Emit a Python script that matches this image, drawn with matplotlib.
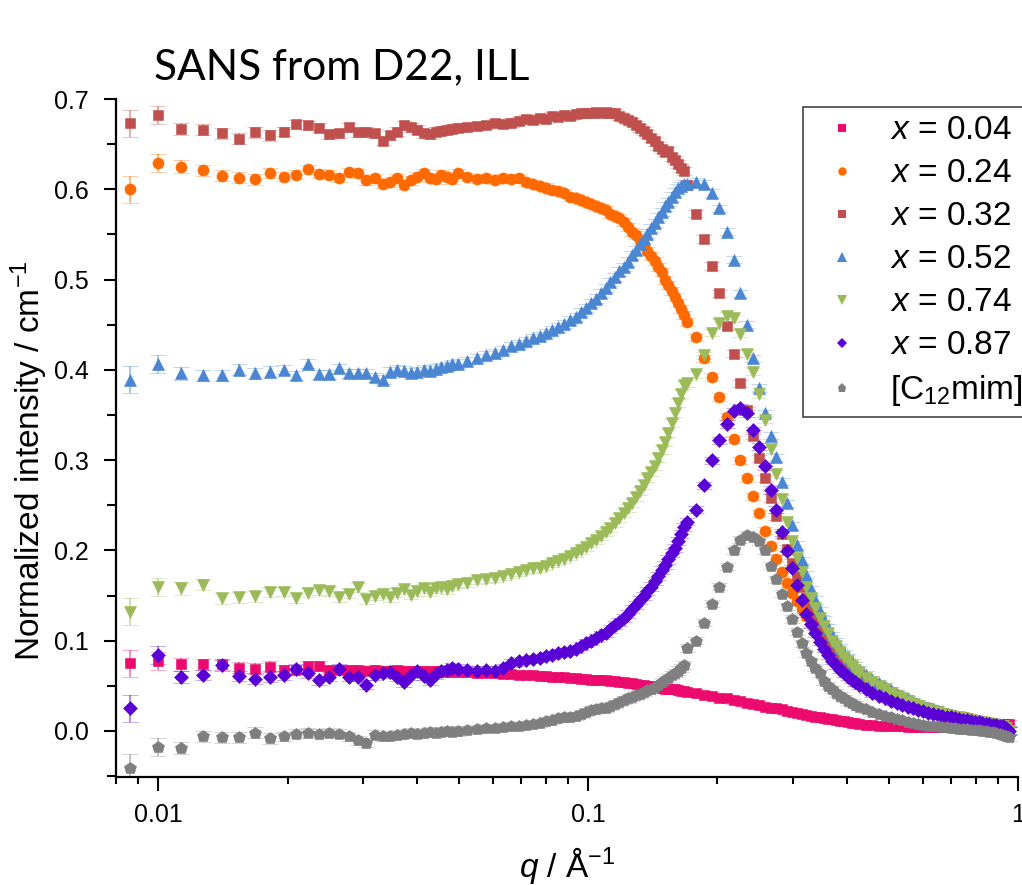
import numpy as np
import matplotlib
matplotlib.use('Agg')
import matplotlib.pyplot as plt
import matplotlib.colors as mcolors
from matplotlib.lines import Line2D
from matplotlib.ticker import FixedLocator, FixedFormatter, MultipleLocator, LogLocator, FormatStrFormatter, NullFormatter

plt.rcParams['font.family'] = 'Liberation Sans'
plt.rcParams['mathtext.fontset'] = 'custom'
plt.rcParams['mathtext.rm'] = 'Liberation Sans'
plt.rcParams['mathtext.it'] = 'Liberation Sans:italic'
plt.rcParams['mathtext.default'] = 'regular'

# ---------------- data ----------------
# q grid (1/A), shared by all samples
q = [0.0086, 0.0100, 0.0113, 0.0127, 0.0141, 0.0154, 0.0168, 0.0182, 0.0196, 0.0209,
     0.0223, 0.0237, 0.0250, 0.0264, 0.0278, 0.0292, 0.0305, 0.0319, 0.0333, 0.0346,
     0.0360, 0.0374, 0.0387, 0.0401, 0.0415, 0.0429, 0.0442, 0.0456, 0.0470, 0.0483,
     0.0497,
     0.0524, 0.0552, 0.0579, 0.0606, 0.0634, 0.0661, 0.0689, 0.0716, 0.0743, 0.0771,
     0.0798, 0.0826, 0.0853, 0.0880, 0.0908, 0.0935, 0.0963, 0.0990, 0.1017, 0.1045,
     0.1072, 0.1100, 0.1127, 0.1154, 0.1182, 0.1209, 0.1237, 0.1264, 0.1291, 0.1319,
     0.1346, 0.1374, 0.1401, 0.1428, 0.1456, 0.1483, 0.1511, 0.1538, 0.1565, 0.1593,
     0.1620, 0.1648, 0.1675,
     0.170, 0.178, 0.186, 0.194, 0.202, 0.210, 0.218, 0.226, 0.234, 0.242,
     0.250, 0.258, 0.266, 0.274, 0.282, 0.290, 0.298, 0.306, 0.314, 0.322,
     0.330, 0.338, 0.346, 0.354, 0.362, 0.370, 0.378, 0.386, 0.394, 0.402,
     0.410, 0.418, 0.426,
     0.442, 0.458, 0.474, 0.490, 0.506, 0.522, 0.538, 0.554, 0.570, 0.586,
     0.602, 0.618, 0.634, 0.650, 0.666, 0.682, 0.698, 0.714, 0.730, 0.746,
     0.762, 0.778, 0.794, 0.810, 0.826, 0.842, 0.858, 0.874, 0.890, 0.906,
     0.922, 0.938, 0.954]

# x = 0.04
I_004 = [0.075, 0.078, 0.074, 0.074, 0.074, 0.070, 0.069, 0.071, 0.068, 0.068,
         0.072, 0.072, 0.068, 0.068, 0.068, 0.068, 0.067, 0.068, 0.067, 0.067,
         0.068, 0.067, 0.066, 0.067, 0.066, 0.066, 0.066, 0.066, 0.065, 0.066,
         0.065,
         0.065, 0.064, 0.064, 0.064, 0.063, 0.063, 0.062, 0.062, 0.062, 0.061,
         0.061, 0.060, 0.060, 0.060, 0.059, 0.059, 0.058, 0.058, 0.057, 0.057,
         0.056, 0.056, 0.055, 0.055, 0.054, 0.054, 0.053, 0.053, 0.052, 0.051,
         0.051, 0.050, 0.050, 0.049, 0.049, 0.048, 0.047, 0.047, 0.046, 0.046,
         0.045, 0.044, 0.044,
         0.043, 0.042, 0.040, 0.039, 0.037, 0.036, 0.034, 0.033, 0.031, 0.030,
         0.029, 0.027, 0.026, 0.025, 0.024, 0.022, 0.021, 0.020, 0.019, 0.018,
         0.017, 0.016, 0.015, 0.014, 0.013, 0.013, 0.012, 0.011, 0.011, 0.010,
         0.009, 0.009, 0.008,
         0.007, 0.007, 0.006, 0.006, 0.005, 0.005, 0.005, 0.004, 0.004, 0.004,
         0.004, 0.004, 0.004, 0.004, 0.004, 0.004, 0.004, 0.004, 0.004, 0.004,
         0.005, 0.005, 0.005, 0.005, 0.006, 0.006, 0.006, 0.007, 0.007, 0.007,
         0.008, 0.008, 0.008]

# x = 0.24
I_024 = [0.600, 0.629, 0.625, 0.621, 0.615, 0.613, 0.611, 0.618, 0.614, 0.616,
         0.622, 0.617, 0.616, 0.613, 0.619, 0.618, 0.610, 0.612, 0.606, 0.608,
         0.612, 0.605, 0.610, 0.614, 0.618, 0.613, 0.611, 0.616, 0.614, 0.611,
         0.618,
         0.614, 0.611, 0.612, 0.610, 0.612, 0.611, 0.612, 0.608, 0.606, 0.604,
         0.602, 0.599, 0.598, 0.596, 0.592, 0.590, 0.588, 0.586, 0.584, 0.581,
         0.579, 0.577, 0.573, 0.570, 0.568, 0.564, 0.558, 0.553, 0.549, 0.544,
         0.539, 0.532, 0.526, 0.521, 0.514, 0.508, 0.500, 0.494, 0.487, 0.481,
         0.474, 0.467, 0.461,
         0.453, 0.436, 0.413, 0.392, 0.370, 0.348, 0.323, 0.300, 0.280, 0.260,
         0.241, 0.222, 0.205, 0.191, 0.176, 0.164, 0.153, 0.144, 0.135, 0.127,
         0.119, 0.112, 0.105, 0.099, 0.093, 0.088, 0.083, 0.079, 0.075, 0.071,
         0.067, 0.064, 0.061,
         0.056, 0.052, 0.048, 0.044, 0.041, 0.038, 0.035, 0.032, 0.030, 0.028,
         0.026, 0.024, 0.022, 0.021, 0.019, 0.018, 0.017, 0.016, 0.015, 0.014,
         0.013, 0.012, 0.011, 0.010, 0.010, 0.009, 0.008, 0.008, 0.007, 0.006,
         0.005, 0.003, 0.000]

# x = 0.32
I_032 = [0.673, 0.682, 0.667, 0.666, 0.662, 0.656, 0.663, 0.660, 0.664, 0.672,
         0.671, 0.668, 0.661, 0.662, 0.669, 0.663, 0.664, 0.662, 0.654, 0.660,
         0.664, 0.671, 0.669, 0.666, 0.662, 0.661, 0.664, 0.665, 0.666, 0.667,
         0.668,
         0.669, 0.670, 0.671, 0.673, 0.672, 0.674, 0.676, 0.678, 0.677, 0.679,
         0.678, 0.681, 0.680, 0.682, 0.681, 0.683, 0.684, 0.685, 0.684, 0.686,
         0.685, 0.686, 0.684, 0.684, 0.681, 0.679, 0.677, 0.675, 0.671, 0.668,
         0.665, 0.661, 0.657, 0.653, 0.648, 0.645, 0.641, 0.642, 0.636, 0.632,
         0.628, 0.624, 0.620,
         0.605, 0.573, 0.545, 0.515, 0.485, 0.449, 0.418, 0.385, 0.355, 0.327,
         0.302, 0.280, 0.258, 0.238, 0.218, 0.202, 0.186, 0.172, 0.159, 0.147,
         0.136, 0.126, 0.117, 0.109, 0.102, 0.096, 0.090, 0.085, 0.080, 0.076,
         0.072, 0.068, 0.065,
         0.059, 0.054, 0.050, 0.046, 0.043, 0.040, 0.037, 0.034, 0.031, 0.029,
         0.027, 0.025, 0.023, 0.022, 0.020, 0.019, 0.018, 0.017, 0.016, 0.015,
         0.014, 0.013, 0.012, 0.011, 0.010, 0.010, 0.009, 0.008, 0.008, 0.007,
         0.006, 0.004, 0.001]

# x = 0.52
I_052 = [0.389, 0.407, 0.396, 0.394, 0.394, 0.400, 0.396, 0.398, 0.400, 0.394,
         0.407, 0.395, 0.395, 0.402, 0.396, 0.396, 0.396, 0.392, 0.389, 0.398,
         0.400, 0.399, 0.397, 0.398, 0.400, 0.399, 0.401, 0.403, 0.404, 0.406,
         0.407,
         0.410, 0.413, 0.416, 0.419, 0.422, 0.426, 0.429, 0.432, 0.435, 0.438,
         0.441, 0.444, 0.447, 0.451, 0.455, 0.459, 0.464, 0.469, 0.474, 0.479,
         0.485, 0.491, 0.497, 0.503, 0.509, 0.514, 0.520, 0.527, 0.533, 0.539,
         0.545, 0.551, 0.557, 0.563, 0.569, 0.575, 0.581, 0.586, 0.592, 0.597,
         0.601, 0.604, 0.606,
         0.606, 0.608, 0.606, 0.596, 0.579, 0.553, 0.522, 0.485, 0.450, 0.413,
         0.380, 0.352, 0.327, 0.303, 0.276, 0.252, 0.228, 0.206, 0.189, 0.173,
         0.157, 0.145, 0.133, 0.123, 0.114, 0.106, 0.099, 0.092, 0.086, 0.081,
         0.076, 0.072, 0.068,
         0.062, 0.057, 0.053, 0.049, 0.045, 0.041, 0.038, 0.035, 0.032, 0.030,
         0.028, 0.026, 0.024, 0.022, 0.021, 0.019, 0.018, 0.017, 0.016, 0.015,
         0.014, 0.013, 0.012, 0.011, 0.011, 0.010, 0.009, 0.009, 0.008, 0.007,
         0.006, 0.004, 0.001]

# x = 0.74
I_074 = [0.132, 0.160, 0.158, 0.162, 0.147, 0.148, 0.149, 0.154, 0.154, 0.147,
         0.153, 0.156, 0.155, 0.148, 0.152, 0.159, 0.146, 0.150, 0.152, 0.148,
         0.153, 0.157, 0.151, 0.155, 0.158, 0.154, 0.158, 0.160, 0.157, 0.161,
         0.163,
         0.164, 0.167, 0.168, 0.170, 0.172, 0.174, 0.176, 0.178, 0.180, 0.181,
         0.183, 0.186, 0.188, 0.191, 0.194, 0.197, 0.200, 0.204, 0.208, 0.212,
         0.216, 0.220, 0.225, 0.230, 0.236, 0.241, 0.247, 0.253, 0.259, 0.266,
         0.273, 0.280, 0.287, 0.294, 0.302, 0.311, 0.320, 0.330, 0.341, 0.352,
         0.363, 0.373, 0.383,
         0.385, 0.395, 0.416, 0.441, 0.452, 0.460, 0.457, 0.440, 0.418, 0.398,
         0.373, 0.345, 0.312, 0.285, 0.257, 0.232, 0.210, 0.192, 0.176, 0.160,
         0.147, 0.136, 0.125, 0.116, 0.108, 0.100, 0.094, 0.088, 0.082, 0.077,
         0.072, 0.068, 0.064,
         0.059, 0.054, 0.050, 0.046, 0.042, 0.039, 0.036, 0.033, 0.030, 0.028,
         0.026, 0.024, 0.022, 0.021, 0.019, 0.018, 0.017, 0.016, 0.015, 0.014,
         0.013, 0.012, 0.011, 0.010, 0.010, 0.009, 0.008, 0.008, 0.007, 0.006,
         0.005, 0.003, 0.000]

# x = 0.87
I_087 = [0.025, 0.084, 0.060, 0.062, 0.073, 0.061, 0.058, 0.060, 0.062, 0.069,
         0.064, 0.056, 0.060, 0.069, 0.060, 0.060, 0.051, 0.062, 0.064, 0.065,
         0.060, 0.054, 0.062, 0.067, 0.061, 0.056, 0.063, 0.067, 0.068, 0.070,
         0.069,
         0.068, 0.067, 0.068, 0.067, 0.070, 0.075, 0.077, 0.079, 0.080, 0.081,
         0.083, 0.084, 0.086, 0.087, 0.089, 0.091, 0.094, 0.097, 0.100, 0.103,
         0.106, 0.109, 0.113, 0.117, 0.121, 0.125, 0.130, 0.135, 0.140, 0.145,
         0.150, 0.155, 0.160, 0.166, 0.172, 0.178, 0.184, 0.190, 0.197, 0.203,
         0.210, 0.218, 0.226,
         0.232, 0.245, 0.272, 0.300, 0.322, 0.340, 0.354, 0.358, 0.352, 0.333,
         0.315, 0.293, 0.267, 0.245, 0.220, 0.199, 0.180, 0.162, 0.145, 0.130,
         0.118, 0.108, 0.099, 0.091, 0.084, 0.078, 0.073, 0.068, 0.064, 0.060,
         0.057, 0.054, 0.051,
         0.046, 0.042, 0.039, 0.036, 0.033, 0.031, 0.029, 0.027, 0.025, 0.023,
         0.022, 0.020, 0.019, 0.018, 0.017, 0.016, 0.015, 0.014, 0.013, 0.012,
         0.012, 0.011, 0.010, 0.010, 0.009, 0.008, 0.008, 0.007, 0.007, 0.006,
         0.005, 0.003, 0.000]

# [C12mim]
I_c12 = [-0.041, -0.018, -0.019, -0.006, -0.007, -0.007, -0.002, -0.008, -0.006, -0.003,
         -0.002, -0.003, -0.002, -0.003, -0.006, -0.010, -0.013, -0.004, -0.006, -0.005,
         -0.004, -0.003, -0.002, -0.003, -0.002, -0.001, -0.002, -0.001, 0.000, -0.001,
         0.000,
         0.001, 0.002, 0.003, 0.003, 0.004, 0.005, 0.006, 0.007, 0.008, 0.009,
         0.011, 0.012, 0.014, 0.015, 0.016, 0.017, 0.019, 0.021, 0.023, 0.024,
         0.025, 0.026, 0.028, 0.030, 0.032, 0.034, 0.036, 0.038, 0.040, 0.041,
         0.043, 0.045, 0.047, 0.049, 0.051, 0.054, 0.056, 0.059, 0.062, 0.064,
         0.067, 0.070, 0.073,
         0.092, 0.100, 0.120, 0.141, 0.160, 0.182, 0.200, 0.212, 0.217, 0.215,
         0.210, 0.200, 0.183, 0.168, 0.152, 0.138, 0.124, 0.110, 0.097, 0.086,
         0.077, 0.070, 0.064, 0.055, 0.050, 0.046, 0.042, 0.039, 0.036, 0.033,
         0.031, 0.029, 0.027,
         0.024, 0.021, 0.019, 0.017, 0.015, 0.013, 0.012, 0.010, 0.009, 0.008,
         0.007, 0.006, 0.006, 0.005, 0.004, 0.004, 0.003, 0.003, 0.002, 0.002,
         0.002, 0.001, 0.001, 0.001, 0.000, 0.000, -0.001, -0.001, -0.002, -0.003,
         -0.004, -0.005, -0.007]

# error bars: larger at the lowest q
err_lowq = [0.015, 0.010, 0.007, 0.006, 0.006, 0.006, 0.006, 0.006,
            0.005, 0.005, 0.005, 0.005, 0.005, 0.005, 0.005, 0.005]
err = err_lowq + [0.005] * 15 + [0.0045] * 43 + [0.004] * 66

labels = ['$\\mathit{x}$ = 0.04', '$\\mathit{x}$ = 0.24', '$\\mathit{x}$ = 0.32',
          '$\\mathit{x}$ = 0.52', '$\\mathit{x}$ = 0.74', '$\\mathit{x}$ = 0.87',
          '[C$_{12}$mim]']

# ---------------- styles ----------------
styles = [('s', '#EC0A6E', 7.0),
          ('o', '#FF6A00', 8.0),
          ('s', '#C0504D', 7.0),
          ('^', '#4A86D2', 9.0),
          ('v', '#9BBB59', 9.0),
          ('D', '#5A00D6', 7.0),
          ('p', '#7F7F7F', 9.0)]
data = [I_004, I_024, I_032, I_052, I_074, I_087, I_c12]

fig = plt.figure(figsize=(10.22, 8.85), dpi=100)
ax = fig.add_axes([0.1135, 0.122, 0.8826, 0.7661])

for y, (mk, c, ms) in zip(data, styles):
    ecol = mcolors.to_rgba(c, 0.6)
    ax.errorbar(q, y, yerr=err, fmt=mk, ls='none', color=c, ms=ms,
                mfc=c, mec=c, mew=0.4,
                ecolor=ecol, elinewidth=1.1, capsize=5.5, capthick=1.1)

ax.set_xscale('log')
ax.set_xlim(0.00798, 1.0)
ax.set_ylim(-0.051, 0.70)

for s in ['top', 'right']:
    ax.spines[s].set_visible(False)
for s in ['left', 'bottom']:
    ax.spines[s].set_linewidth(1.6)

ax.xaxis.set_major_locator(FixedLocator([0.01, 0.1, 1.0]))
ax.xaxis.set_major_formatter(FixedFormatter(['0.01', '0.1', '1']))
ax.xaxis.set_minor_locator(LogLocator(base=10, subs=np.arange(2, 10)))
ax.xaxis.set_minor_formatter(NullFormatter())
ax.yaxis.set_major_locator(MultipleLocator(0.1))
ax.yaxis.set_major_formatter(FormatStrFormatter('%.1f'))
ax.yaxis.set_minor_locator(MultipleLocator(0.05))

ax.tick_params(axis='x', which='major', direction='out', length=10, width=1.5, labelsize=18, pad=8.5)
ax.tick_params(axis='x', which='minor', direction='out', length=5, width=1.5)
ax.tick_params(axis='y', which='major', direction='out', length=9, width=1.5, labelsize=18, pad=10.5)
ax.tick_params(axis='y', which='minor', direction='out', length=6.5, width=1.5)

ax.set_ylabel('Normalized intensity / cm$^{-1}$', fontsize=24)
ax.yaxis.set_label_coords(-0.073, 0.466)
ax.set_xlabel('$\\mathit{q}$ / Å$^{-1}$', fontsize=24, labelpad=13)

fig.text(154 / 1022, 1 - 79 / 885, 'SANS from D22, ILL', fontsize=30.5,
         family='Lato', va='baseline', ha='left')

handles = [Line2D([], [], ls='none', marker=mk, color=c, ms=ms * 0.75, mew=0)
           for mk, c, ms in styles]
leg = fig.legend(handles, labels, loc='upper left',
                 bbox_to_anchor=(803 / 1022, 1 - 107 / 885), bbox_transform=fig.transFigure,
                 fontsize=24, frameon=True, fancybox=False, edgecolor='#444444',
                 framealpha=1, borderpad=0.25, labelspacing=0.36, handlelength=1.85,
                 handletextpad=0.5, borderaxespad=0)
leg.get_frame().set_linewidth(1.2)

fig.savefig('out.png', dpi=100)
